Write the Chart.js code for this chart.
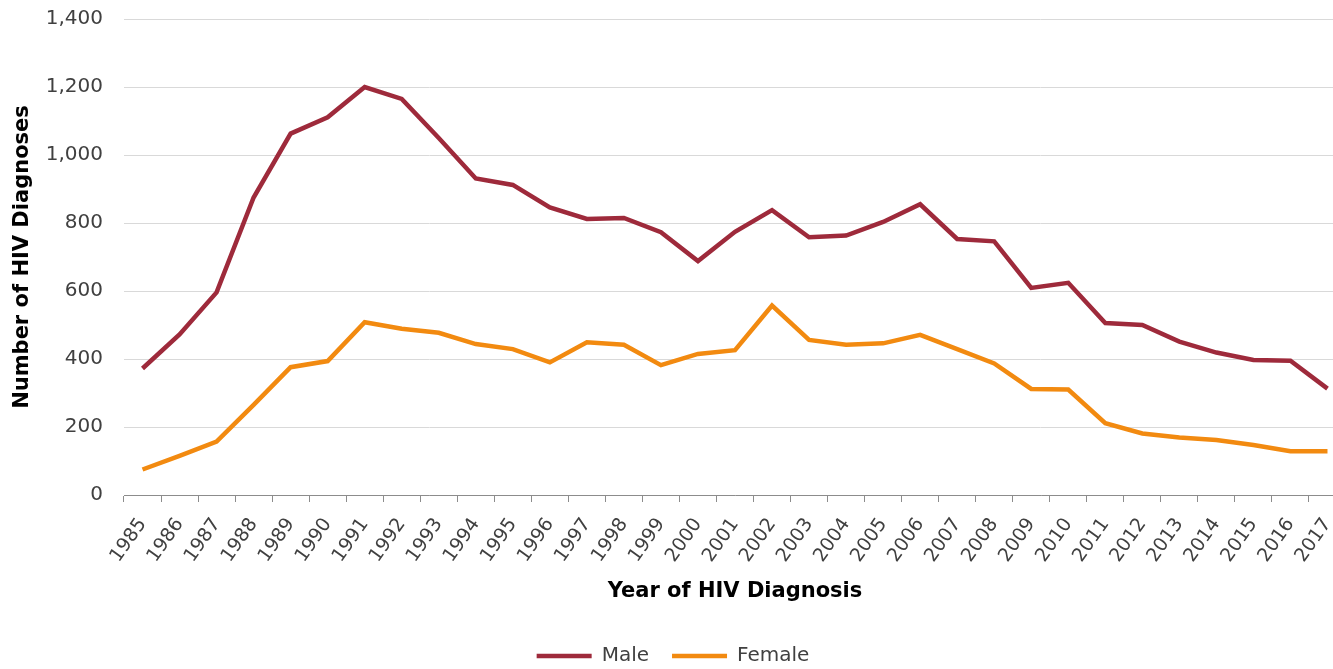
<!DOCTYPE html>
<html>
<head>
<meta charset="utf-8">
<script src="https://cdn.jsdelivr.net/npm/chart.js@4/dist/chart.umd.min.js"></script>
<style>
html, body { margin: 0; padding: 0; background: #fff; overflow: hidden; }
#wrap { position: relative; width: 1346px; height: 669px; }
</style>
</head>
<body>
<div id="wrap"><canvas id="c"></canvas></div>
<script>
const years = ['1985','1986','1987','1988','1989','1990','1991','1992','1993','1994','1995','1996','1997','1998','1999','2000','2001','2002','2003','2004','2005','2006','2007','2008','2009','2010','2011','2012','2013','2014','2015','2016','2017'];
const male = [372, 472, 596, 875, 1063, 1111, 1200, 1165, 1050, 931, 912, 846, 812, 815, 773, 688, 774, 838, 758, 763, 803, 855, 753, 746, 609, 624, 506, 500, 451, 419, 397, 395, 313];
const female = [75, 115, 157, 265, 376, 394, 508, 489, 477, 444, 429, 390, 449, 442, 382, 415, 426, 557, 456, 442, 446, 471, 429, 387, 312, 310, 211, 181, 169, 162, 147, 129, 129];
const yTicks = [0, 200, 400, 600, 800, 1000, 1200, 1400];

const FONT = "'DejaVu Sans', Verdana, sans-serif";
const TXT = '#404040';

new Chart(document.getElementById('c'), {
  type: 'line',
  data: {
    labels: years,
    datasets: [
      { label: 'Male', data: male, borderColor: '#9E2A3B', backgroundColor: '#9E2A3B', borderWidth: 4.5, pointRadius: 0, tension: 0, fill: false },
      { label: 'Female', data: female, borderColor: '#F28A10', backgroundColor: '#F28A10', borderWidth: 4.5, pointRadius: 0, tension: 0, fill: false }
    ]
  },
  options: {
    responsive: true,
    maintainAspectRatio: false,
    animation: false,
    layout: { padding: { top: 19, right: 0, bottom: -7, left: 0 } },
    plugins: {
      tooltip: { enabled: false },
      legend: {
        position: 'bottom',
        labels: {
          usePointStyle: true,
          pointStyle: 'line',
          pointStyleWidth: 55,
          padding: 23,
          color: TXT,
          font: { family: FONT, size: 20 }
        }
      }
    },
    scales: {
      x: {
        type: 'category',
        offset: true,
        grid: { display: true, drawOnChartArea: false, offset: true, color: '#8c8c8c', tickLength: 7, lineWidth: 1 },
        border: { display: true, color: '#8c8c8c', width: 1 },
        ticks: { color: TXT, font: { family: FONT, size: 19 }, minRotation: 55, maxRotation: 55, autoSkip: false, padding: 12 },
        title: { display: true, text: 'Year of HIV Diagnosis', color: '#000', font: { family: FONT, size: 21, weight: 'bold' }, padding: { top: 0, bottom: 19 } },
        afterFit: (s) => { s.height = 128; s.paddingLeft = 0; s.paddingRight = 0; }
      },
      y: {
        min: 0, max: 1400,
        afterBuildTicks: (s) => { s.ticks = yTicks.map(v => ({ value: v })); },
        grid: { color: '#d9d9d9', lineWidth: 1, drawTicks: false },
        border: { display: false },
        ticks: { color: TXT, font: { family: FONT, size: 20 }, padding: 21, callback: (v) => v.toLocaleString('en-US') },
        title: { display: true, text: 'Number of HIV Diagnoses', color: '#000', font: { family: FONT, size: 21, weight: 'bold' }, padding: { top: 10, bottom: 0 } },
        afterFit: (s) => { s.width = 124; s.paddingTop = 0; s.paddingBottom = 0; }
      }
    }
  }
});
</script>
</body>
</html>
